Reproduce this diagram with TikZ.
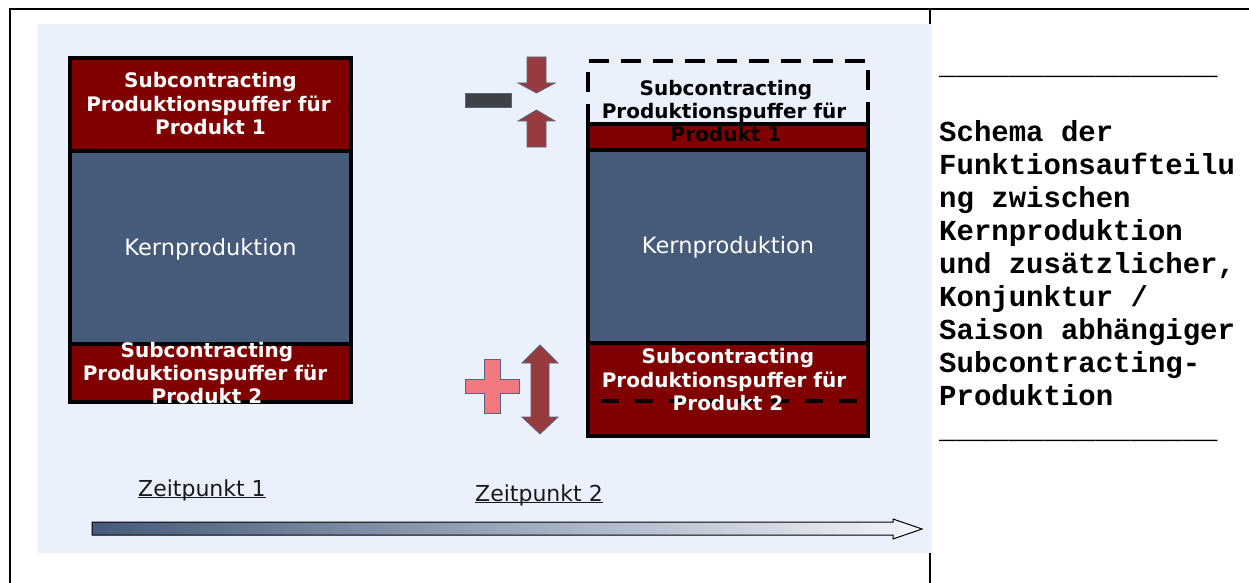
\documentclass[tikz,border=0pt]{standalone}
\usepackage{fontspec}
\setmainfont{DejaVu Sans}
\newfontfamily\mymono{Liberation Mono}
\definecolor{panel}{HTML}{EAF1FD}
\definecolor{dred}{HTML}{800000}
\definecolor{core}{HTML}{465A7A}
\definecolor{arrowred}{HTML}{983B3E}
\definecolor{plusred}{HTML}{F27880}
\definecolor{minusgrey}{HTML}{3E4146}
\definecolor{iconedge}{HTML}{56647E}
\definecolor{gradend}{HTML}{F2F5FB}
\newcommand\myunders{\textunderscore\textunderscore\textunderscore\textunderscore\textunderscore\textunderscore\textunderscore\textunderscore\textunderscore\textunderscore\textunderscore\textunderscore\textunderscore\textunderscore\textunderscore\textunderscore}
\begin{document}
\begin{tikzpicture}[x=1pt,y=-1pt,
  lbl/.style={font=\fontsize{20}{23}\selectfont\bfseries, inner sep=0pt, anchor=base},
  kern/.style={font=\fontsize{22.5}{26}\selectfont, text=white, inner sep=0pt, anchor=base},
  zeit/.style={font=\fontsize{22}{26}\selectfont, text=black!90, inner sep=0pt, anchor=base west},
  mono/.style={font=\mymono\bfseries\fontsize{29}{33}\selectfont, inner sep=0pt, anchor=base west},
  box/.style={line width=4pt, draw=black},
  icon/.style={draw=iconedge, line width=0.8pt},
]
\useasboundingbox (0,0) rectangle (1249,583);
\fill[white] (0,0) rectangle (1249,583);
% frame lines
\draw[line width=1.3pt] (10,583) -- (10,9) -- (1249,9);
\draw[line width=1.3pt] (930,9) -- (930,583);
% panel
\fill[panel] (37,24) rectangle (932,553);

% ---------- left stack (Zeitpunkt 1)
\fill[dred] (70,58) rectangle (351,151);
\fill[core] (70,151) rectangle (351,344);
\fill[dred] (70,344) rectangle (351,402);
\draw[box] (70,58) rectangle (351,402);
\draw[box] (70,151) -- (351,151);
\draw[box] (70,344) -- (351,344);

\node[lbl, text=white] (lt1) at (210.5,88) {Subcontracting};
\node[lbl, text=white] (lt2) at (208.5,111) {Produktionspuffer für};
\node[lbl, text=white] (lt3) at (210.5,134) {Produkt 1};
\node[kern] (lk) at (210.5,255) {Kernproduktion};
\node[lbl, text=white] (lb1) at (207,357) {Subcontracting};
\node[lbl, text=white] (lb2) at (205,380) {Produktionspuffer für};
\node[lbl, text=white] (lb3) at (207,403) {Produkt 2};

% ---------- right stack (Zeitpunkt 2)
\draw[box, dash pattern=on 20pt off 12pt] (588,124) -- (588,61) -- (868,61) -- (868,124);
\fill[dred] (588,124) rectangle (868,150);
\fill[core] (588,150) rectangle (868,343);
\fill[dred] (588,343) rectangle (868,436);
\draw[box] (588,124) rectangle (868,436);
\draw[box] (588,150) -- (868,150);
\draw[box] (588,343) -- (868,343);
\draw[box, dash pattern=on 18pt off 16pt] (601,401) -- (868,401);

\node[lbl, text=black] (rt1) at (726,96) {Subcontracting};
\node[lbl, text=black] (rt2) at (724,119) {Produktionspuffer für};
\node[lbl, text=black] (rt3) at (726,142) {Produkt 1};
\node[kern] (rk) at (728,253) {Kernproduktion};
\node[lbl, text=white] (rb1) at (728,363) {Subcontracting};
\node[lbl, text=white] (rb2) at (724,387) {Produktionspuffer für};
\node[lbl, text=white] (rb3) at (728,410) {Produkt 2};

% ---------- icons
\filldraw[fill=minusgrey, icon] (465,93) rectangle (511,107);
\filldraw[fill=arrowred, icon] (527,57) -- (546,57) -- (546,83) -- (555,83) -- (536.5,93)
   -- (518,83) -- (527,83) -- cycle;
\filldraw[fill=arrowred, icon] (527,147) -- (546,147) -- (546,121) -- (555,121) -- (536.5,110)
   -- (518,121) -- (527,121) -- cycle;
\filldraw[fill=plusred, icon] (484,359) -- (500,359) -- (500,379) -- (519,379) -- (519,393)
   -- (500,393) -- (500,413) -- (484,413) -- (484,393) -- (465,393) -- (465,379) -- (484,379) -- cycle;
\filldraw[fill=arrowred, icon] (540,345) -- (558,363) -- (549,363) -- (549,417) -- (558,417)
   -- (540,434) -- (522,417) -- (531,417) -- (531,363) -- (522,363) -- cycle;

% ---------- time axis
\node[zeit] (z1) at (138,496) {Zeitpunkt 1};
\draw[line width=1.1pt, black!90] ([yshift=-1.5pt]z1.base west) -- ([yshift=-1.5pt]z1.base east);
\node[zeit] (z2) at (475,501) {Zeitpunkt 2};
\draw[line width=1.1pt, black!90] ([yshift=-1.5pt]z2.base west) -- ([yshift=-1.5pt]z2.base east);

\shade[left color=core, right color=gradend] (92,522) -- (893,522) -- (893,519) -- (922,529)
   -- (893,539) -- (893,535) -- (92,535) -- cycle;
\draw[line width=1pt] (92,522) -- (893,522) -- (893,519) -- (922,529)
   -- (893,539) -- (893,535) -- (92,535) -- cycle;

% ---------- right caption
\node[mono] (c0) at (939,75) {\myunders};
\node[mono] (c2) at (939,141) {Schema der};
\node[mono] (c3) at (939,174) {Funktionsaufteilu};
\node[mono] (c4) at (939,207) {ng zwischen};
\node[mono] (c5) at (939,240) {Kernproduktion};
\node[mono] (c6) at (939,273) {und zusätzlicher,};
\node[mono] (c7) at (939,306) {Konjunktur /};
\node[mono] (c8) at (939,339) {Saison abhängiger};
\node[mono] (c9) at (939,372) {Subcontracting-};
\node[mono] (c10) at (939,405) {Produktion};
\node[mono] (c11) at (939,438) {\myunders};
\end{tikzpicture}
\end{document}
